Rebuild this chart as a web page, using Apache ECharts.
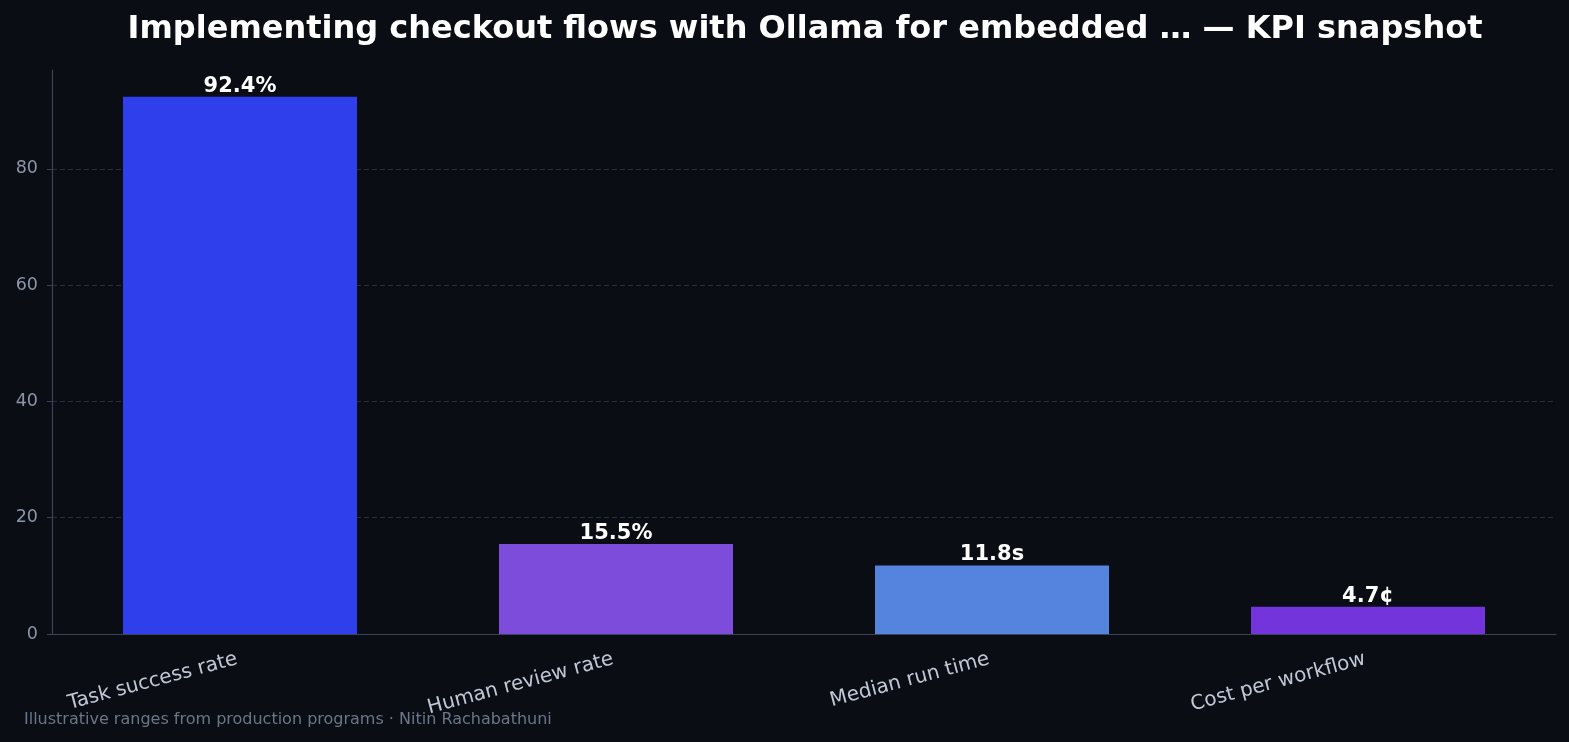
<!DOCTYPE html>
<html>
<head>
<meta charset="utf-8">
<script src="https://cdn.jsdelivr.net/npm/echarts@6/dist/echarts.min.js"></script>
<style>
    html, body { margin: 0; padding: 0; background: #0a0d14; }
    #chart { width: 1569px; height: 742px; }
</style>
</head>
<body>
<div id="chart"></div>
<script>
// chart data
var categories = ["Task success rate", "Human review rate", "Median run time", "Cost per workflow"];
var values = [92.4, 15.5, 11.8, 4.7];
var valueLabels = ["92.4%", "15.5%", "11.8s", "4.7¢"];
var barColors = ["#2e3feb", "#7e4cdb", "#5584de", "#7335db"];
var yTicks = [0, 20, 40, 60, 80];

var font = "DejaVu Sans";
var chart = echarts.init(document.getElementById("chart"));

chart.setOption({
    backgroundColor: "#0a0d14",
    animation: false,
    title: {
        text: "Implementing checkout flows with Ollama for embedded … — KPI snapshot",
        left: 800,
        textAlign: "center",
        top: 9,
        textStyle: {
            color: "#ffffff",
            fontFamily: font,
            fontWeight: "bold",
            fontSize: 32
        }
    },
    graphic: [
        {
            type: "text",
            left: 24,
            top: 712,
            style: {
                text: "Illustrative ranges from production programs · Nitin Rachabathuni",
                fill: "#6b7688",
                font: "16px " + font
            }
        }
    ],
    grid: {
        left: 52,
        right: 13,
        top: 70,
        bottom: 108
    },
    xAxis: {
        type: "category",
        data: categories,
        axisLine: { lineStyle: { color: "#3a4456", width: 1.2 } },
        axisTick: { alignWithLabel: true, length: 5, lineStyle: { color: "#000000" } },
        axisLabel: {
            rotate: 15,
            color: "#c0c8d8",
            fontFamily: font,
            fontSize: 20,
            margin: 24,
            padding: [0, 3, 0, 0],
            interval: 0
        }
    },
    yAxis: {
        type: "value",
        min: 0,
        max: 97.02,
        interval: 20,
        axisLine: { show: true, lineStyle: { color: "#3a4456", width: 1.2 } },
        axisTick: { show: true, length: 5, customValues: yTicks, lineStyle: { color: "#3a4456" } },
        axisLabel: {
            color: "#8a96aa",
            fontFamily: font,
            fontSize: 17.5,
            margin: 14,
            customValues: yTicks
        },
        splitLine: {
            show: true,
            lineStyle: { color: "#262e40", type: [5, 3], width: 1 }
        }
    },
    series: [
        {
            type: "bar",
            barWidth: 234,
            data: values.map(function (v, i) {
                return { value: v, itemStyle: { color: barColors[i] } };
            }),
            label: {
                show: true,
                position: "top",
                distance: 0,
                color: "#ffffff",
                fontFamily: font,
                fontWeight: "bold",
                fontSize: 21,
                formatter: function (p) {
                    return valueLabels[p.dataIndex];
                }
            }
        }
    ]
});
</script>
</body>
</html>
